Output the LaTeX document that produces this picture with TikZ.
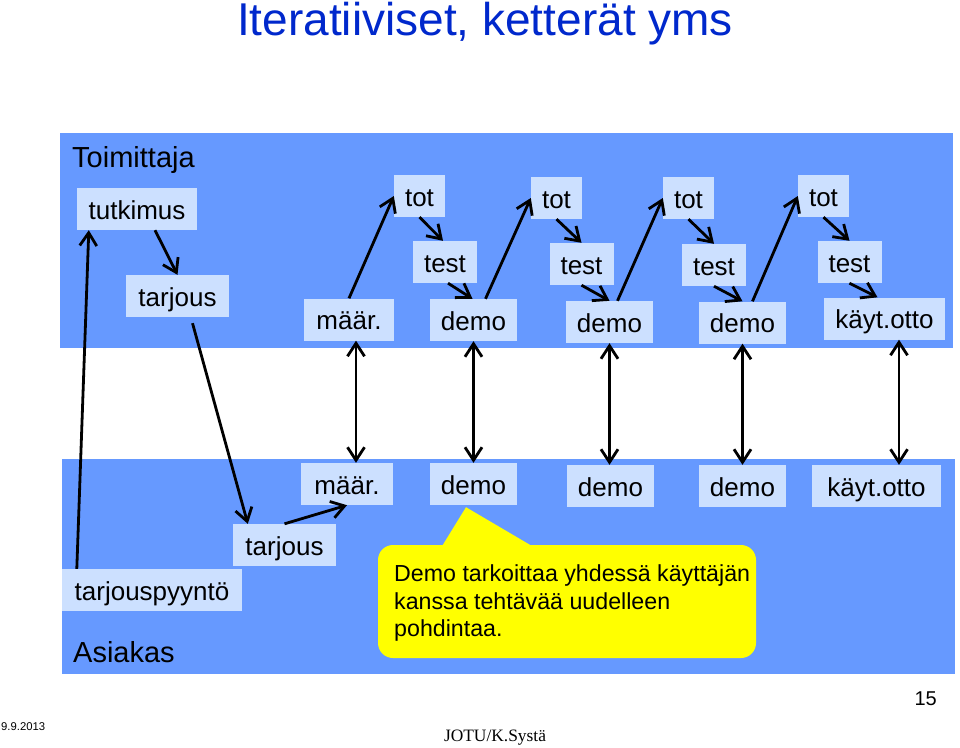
\documentclass[tikz,border=0pt]{standalone}
\usepackage{fontspec}
\setmainfont{Liberation Sans}
\newfontfamily\timesf{Liberation Serif}
\usetikzlibrary{arrows.meta,calc}
\definecolor{bandblue}{RGB}{102,153,255}
\definecolor{boxblue}{RGB}{204,224,255}
\definecolor{titleblue}{RGB}{0,40,204}
\definecolor{callyellow}{RGB}{255,255,0}
\begin{document}
\begin{tikzpicture}[x=1pt,y=-1pt,
 bx/.style={fill=boxblue, inner sep=0pt, minimum height=42pt, text height=24pt, text depth=4pt, font=\fontsize{26}{30}\selectfont},
 arr/.style={line width=2.8pt, -{Straight Barb[length=13pt,width=17pt]}},
 darr/.style={line width=2.8pt, {Straight Barb[length=13pt,width=17pt]}-{Straight Barb[length=13pt,width=17pt]}},
 lbl/.style={anchor=base west, inner sep=0pt, font=\fontsize{29}{32}\selectfont}
 ]
\useasboundingbox (0,0) rectangle (960,747);
\fill[bandblue] (60,133) rectangle (953,348);
\fill[bandblue] (62,459) rectangle (955,674);

\node[anchor=base, font=\fontsize{46}{50}\selectfont, text=titleblue, inner sep=0pt] (title) at (485,35) {Iteratiiviset, ketterät yms};
\node[lbl] (toim) at (72,167) {Toimittaja};
\node[lbl] (asiakas) at (73,662) {Asiakas};

% top band boxes
\node[bx, minimum width=120pt] (tutkimus) at (137,209) {tutkimus};
\node[bx, minimum width=103pt] (tarjousT) at (177.5,296) {tarjous};
\node[bx, minimum width=90pt] (maarT) at (349,319.5) {määr.};
\node[bx, minimum width=51pt] (tot1) at (419.5,196) {tot};
\node[bx, minimum width=64pt] (test1) at (445,262) {test};
\node[bx, minimum width=87pt] (demo1) at (473.5,320) {demo};
\node[bx, minimum width=51pt] (tot2) at (556.5,198) {tot};
\node[bx, minimum width=64pt] (test2) at (581.5,264) {test};
\node[bx, minimum width=87pt] (demo2) at (609.5,322) {demo};
\node[bx, minimum width=51pt] (tot3) at (688.5,198) {tot};
\node[bx, minimum width=64pt] (test3) at (714,265) {test};
\node[bx, minimum width=87pt] (demo3) at (742.5,322.5) {demo};
\node[bx, minimum width=51pt] (tot4) at (823.5,196) {tot};
\node[bx, minimum width=64pt] (test4) at (849.5,262) {test};
\node[bx, minimum width=121pt] (kayttoT) at (884.5,318.5) {käyt.otto};

% bottom band boxes
\node[bx, minimum width=92pt] (maarB) at (347,484) {määr.};
\node[bx, minimum width=87pt] (demoB1) at (473.5,484) {demo};
\node[bx, minimum width=87pt] (demoB2) at (610.5,486) {demo};
\node[bx, minimum width=87pt] (demoB3) at (742.5,486) {demo};
\node[bx, minimum width=129pt] (kayttoB) at (876.5,486) {käyt.otto};
\node[bx, minimum width=103pt] (tarjousB) at (284.5,545) {tarjous};
\node[bx, minimum width=180pt] (tarjouspyynto) at (152,590) {tarjouspyyntö};

% callout
\node[fill=callyellow, rounded corners=15pt, minimum width=378pt, minimum height=113pt, inner sep=0pt] (callbox) at (567,601.5) {};
\fill[callyellow] ([shift={(-126,3)}]callbox.north) -- ([shift={(-7.5,2)}]demoB1.south) -- ([shift={(-32,3)}]callbox.north) -- cycle;
\node[anchor=west, align=left, inner sep=0pt, font=\fontsize{23.2}{27.5}\selectfont] (calltext) at (394,603) {Demo tarkoittaa yhdessä käyttäjän\\kanssa tehtävää uudelleen\\pohdintaa.};

% top band arrows
\draw[arr] ([xshift=18]tutkimus.south) -- (tarjousT.north);
\draw[arr] (maarT.north) -- (tot1.west);
\draw[arr] (tot1.south) -- ([xshift=-2]test1.north);
\draw[arr] ([xshift=3]test1.south) -- ([xshift=-1]demo1.north);
\draw[arr] ([xshift=12]demo1.north) -- (tot2.west);
\draw[arr] (tot2.south) -- (test2.north);
\draw[arr] (test2.south) -- (demo2.north);
\draw[arr] ([xshift=8]demo2.north) -- (tot3.west);
\draw[arr] (tot3.south) -- (test3.north);
\draw[arr] (test3.south) -- (demo3.north);
\draw[arr] ([xshift=10]demo3.north) -- (tot4.west);
\draw[arr] (tot4.south) -- (test4.north);
\draw[arr] (test4.south) -- ([xshift=-7]kayttoT.north);

% vertical double arrows
\draw[darr] ([xshift=7]maarT.south) -- ([xshift=7]maarT.south |- maarB.north);
\draw[darr] (demo1.south) -- (demo1.south |- demoB1.north);
\draw[darr] (demo2.south) -- (demo2.south |- demoB2.north);
\draw[darr] (demo3.south) -- (demo3.south |- demoB3.north);
\draw[darr] ([xshift=14.5]kayttoT.south) -- ([xshift=14.5]kayttoT.south |- kayttoB.north);

% long arrows
\draw[arr] ([xshift=15]tarjouspyynto.north west) -- ([xshift=12]tutkimus.south west);
\draw[arr] ([shift={(15,6)}]tarjousT.south) -- ([xshift=15]tarjousB.north west);
\draw[arr] (tarjousB.north) -- (maarB.south);

% footer
\node[anchor=base west, inner sep=0pt, font=\fontsize{11.3}{13}\selectfont] (date) at (1,730) {9.9.2013};
\node[anchor=base, inner sep=0pt, font=\timesf\fontsize{17.4}{20}\selectfont] (author) at (495,741) {JOTU/K.Systä};
\node[anchor=base east, inner sep=0pt, font=\fontsize{20}{24}\selectfont] (page) at (937,705) {15};
\end{tikzpicture}
\end{document}
